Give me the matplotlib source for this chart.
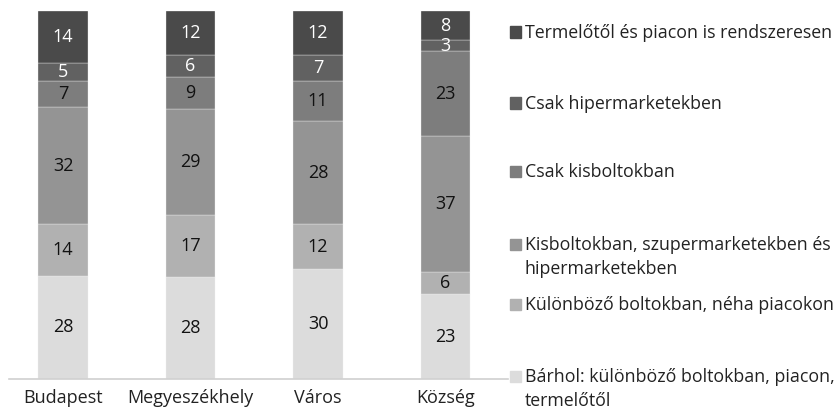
import matplotlib.pyplot as plt
from matplotlib.patches import Rectangle

plt.rcParams['font.family'] = ['Open Sans', 'DejaVu Sans']

categories = ['Budapest', 'Megyeszékhely', 'Város', 'Község']
# stacked from the bottom up
series = [
    'Bárhol: különböző boltokban, piacon,\ntermelőtől',
    'Különböző boltokban, néha piacokon',
    'Kisboltokban, szupermarketekben és\nhipermarketekben',
    'Csak kisboltokban',
    'Csak hipermarketekben',
    'Termelőtől és piacon is rendszeresen',
]
values = [
    [28, 28, 30, 23],
    [14, 17, 12, 6],
    [32, 29, 28, 37],
    [7, 9, 11, 23],
    [5, 6, 7, 3],
    [14, 12, 12, 8],
]
colors = ['#dcdcdc', '#b1b1b1', '#949494', '#7d7d7d', '#616161', '#4a4a4a']
label_colors = ['#111111', '#111111', '#111111', '#111111', 'white', 'white']

W, H = 840, 413
fig = plt.figure(figsize=(W / 100, H / 100), dpi=100)
ax = fig.add_axes([9 / W, 34 / H, (508 - 9) / W, (402 - 34) / H])

totals = [sum(v[i] for v in values) for i in range(len(categories))]
bottoms = [0.0] * len(categories)
for s, vals in enumerate(values):
    shares = [v / t * 100 for v, t in zip(vals, totals)]
    ax.bar(range(len(categories)), shares, bottom=bottoms, width=0.39,
           color=colors[s], edgecolor='#f0f0f0', linewidth=0.25)
    for i, (v, sh) in enumerate(zip(vals, shares)):
        ax.text(i, bottoms[i] + sh / 2, str(v), ha='center', va='center',
                fontsize=13, color=label_colors[s])
    bottoms = [b + sh for b, sh in zip(bottoms, shares)]

ax.set_xlim(-0.424, 3.49)
ax.set_ylim(0, 100)
ax.set_yticks([])
ax.set_xticks(range(len(categories)))
ax.set_xticklabels(categories, fontsize=13, color='#222222')
ax.tick_params(axis='x', length=0, pad=7)
for side in ['top', 'right', 'left']:
    ax.spines[side].set_visible(False)
ax.spines['bottom'].set_color('#d0d0d0')
ax.spines['bottom'].set_linewidth(1.2)

# legend, top entry first; wrapped entries get one text per line
legend_y = [32, 103, 171, 244, 304, 376]
line_gap = 23.5
for k, y in enumerate(legend_y):
    s = len(series) - 1 - k
    fig.patches.append(Rectangle((510 / W, 1 - (y + 5.5) / H), 11 / W, 11 / H,
                                 transform=fig.transFigure, color=colors[s]))
    for j, line in enumerate(series[s].split('\n')):
        fig.text(525 / W, 1 - (y + 6 + j * line_gap) / H, line, ha='left',
                 va='baseline', fontsize=12.8, color='#222222')

fig.savefig('out.png', dpi=100)
